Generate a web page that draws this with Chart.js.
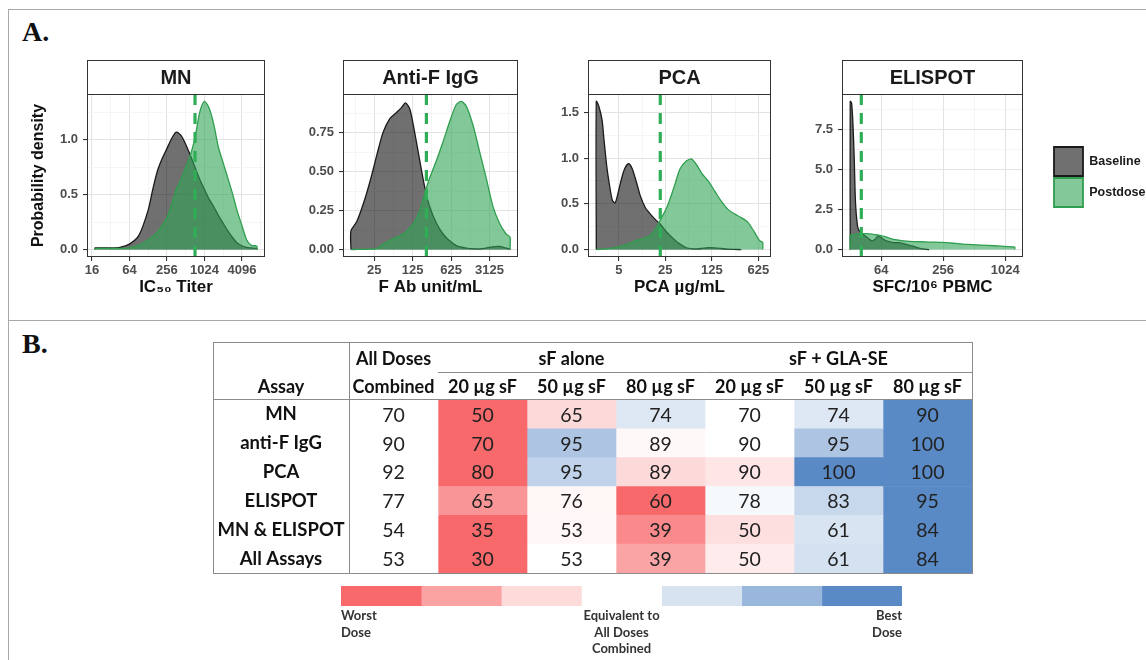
<!DOCTYPE html>
<html>
<head>
<meta charset="utf-8">
<title>Dose response by assay</title>
<script src="https://cdn.jsdelivr.net/npm/chart.js@4.4.1/dist/chart.umd.min.js"></script>
<style>
  html, body { margin: 0; padding: 0; background: #fff; }
  body { width: 1146px; height: 660px; position: relative; overflow: hidden; }
  .frame { position: absolute; left: 8px; top: 9px; width: 1160px; height: 720px; border: 1.5px solid #a9a9a9; box-sizing: border-box; }
  .divider { position: absolute; left: 8px; top: 320px; width: 1160px; height: 0; border-top: 1.5px solid #a9a9a9; }
  .tag { position: absolute; left: 22px; font: bold 28px "Liberation Serif", "Times New Roman", serif; line-height: 28px; color: #111; }
  .box { position: absolute; }
  canvas { display: block; }
</style>
</head>
<body>
<div class="frame"></div>
<div class="divider"></div>
<div class="tag" style="top:18px">A.</div>
<div class="tag" style="top:330px">B.</div>

<div class="box" style="left:20px;top:55px"><canvas id="mn" width="250" height="250"></canvas></div>
<div class="box" style="left:300px;top:55px"><canvas id="igg" width="225" height="250"></canvas></div>
<div class="box" style="left:546px;top:55px"><canvas id="pca" width="232" height="250"></canvas></div>
<div class="box" style="left:800px;top:55px"><canvas id="elispot" width="230" height="250"></canvas></div>
<div class="box" style="left:1052px;top:145px"><canvas id="key" width="200" height="72"></canvas></div>

<div class="box" style="left:213px;top:342px"><canvas id="table" width="760" height="232"></canvas></div>
<div class="box" style="left:330px;top:580px"><canvas id="scale" width="590" height="80"></canvas></div>

<script>
// ---- panel A: density curves (x values on the original assay scale) ----
const mnTiter = [18, 32, 45, 64, 91, 128, 152, 181, 215, 256, 304, 362, 431, 512, 609,
  724, 861, 1024, 1218, 1448, 1722, 2048, 2435, 2896, 3444, 4096, 4871, 5793, 7132];
const mnBaseline = [0.015, 0.015, 0.02, 0.05, 0.13, 0.36, 0.55, 0.72, 0.83, 0.92, 1.01, 1.07, 1.04, 0.96, 0.86,
  0.75, 0.64, 0.55, 0.46, 0.39, 0.31, 0.24, 0.17, 0.11, 0.06, 0.035, 0.02, 0.015, 0.01];
const mnPostdose = [0.01, 0.01, 0.01, 0.015, 0.04, 0.09, 0.12, 0.16, 0.22, 0.29, 0.41, 0.55, 0.64, 0.75, 0.86,
  1.02, 1.25, 1.35, 1.29, 1.14, 0.93, 0.79, 0.65, 0.51, 0.35, 0.22, 0.09, 0.04, 0.03];
const mnCutoff = 724;
const mnXTicks = [16, 64, 256, 1024, 4096];
const mnYTicks = [0, 0.5, 1.0];

const iggUnits = [9.4, 12, 16, 21, 28, 36, 48, 64, 78, 92, 111, 136, 168, 207, 255,
  337, 445, 588, 777, 956, 1178, 1557, 2056, 2717, 3588, 4734, 6253, 7393];
const iggBaseline = [0.12, 0.18, 0.30, 0.44, 0.61, 0.75, 0.84, 0.88, 0.91, 0.94, 0.90, 0.75, 0.57, 0.40, 0.275,
  0.17, 0.10, 0.056, 0.025, 0.015, 0.01, 0.006, 0.005, 0.01, 0.018, 0.02, 0.01, 0.004];
const iggPostdose = [0, 0.001, 0.002, 0.003, 0.008, 0.035, 0.06, 0.08, 0.095, 0.11, 0.14, 0.18, 0.25, 0.36, 0.46,
  0.57, 0.69, 0.82, 0.93, 0.95, 0.92, 0.80, 0.63, 0.46, 0.28, 0.17, 0.10, 0.08];
const iggCutoff = 222;
const iggXTicks = [25, 125, 625, 3125];
const iggYTicks = [0, 0.25, 0.5, 0.75];

const pcaConc = [2.3, 2.5, 2.8, 3.0, 3.3, 3.6, 4.0, 4.4, 4.7, 5.3, 6.1, 7.0, 7.9, 9.1, 10.5, 12.5, 14.8, 17.6,
  20.9, 26.3, 33, 41.5, 52, 62, 73.5, 87, 110, 138, 173, 218, 274, 345, 433, 545, 647, 725];
const pcaBaseline = [1.62, 1.57, 1.42, 1.20, 0.91, 0.72, 0.54, 0.51, 0.57, 0.73, 0.88, 0.94, 0.89, 0.75, 0.59, 0.46, 0.39, 0.33,
  0.28, 0.19, 0.12, 0.06, 0.02, 0.01, 0.008, 0.012, 0.02, 0.018, 0.012, 0.005, 0.002, 0, null, null, null, null];
const pcaPostdose = [0, 0.002, 0.004, 0.006, 0.01, 0.014, 0.018, 0.022, 0.027, 0.035, 0.05, 0.065, 0.08, 0.10, 0.11, 0.13, 0.15, 0.22,
  0.32, 0.46, 0.66, 0.88, 0.97, 0.99, 0.93, 0.84, 0.75, 0.64, 0.53, 0.44, 0.39, 0.35, 0.30, 0.19, 0.10, 0.08];
const pcaCutoff = 21;
const pcaXTicks = [5, 25, 125, 625];
const pcaYTicks = [0, 0.5, 1.0, 1.5];

const elispotSfc = [32, 33, 34, 35, 36, 37.6, 39, 42, 47, 52, 56, 60, 65, 72, 84, 97, 112, 130,
  156, 187, 250, 335, 448, 600, 803, 1075, 1270];
const elispotBaseline = [9.24, 9.13, 7.84, 5.69, 2.9, 1.5, 1.18, 0.97, 0.75, 0.54, 0.64, 0.86, 0.71, 0.54, 0.43, 0.43, 0.32, 0.21,
  0.06, 0, null, null, null, null, null, null, null];
const elispotPostdose = [0.9, 0.92, 0.94, 0.95, 0.96, 1.0, 1.0, 1.0, 0.99, 0.96, 0.93, 0.9, 0.85, 0.78, 0.64, 0.58, 0.53, 0.50,
  0.49, 0.47, 0.45, 0.39, 0.32, 0.28, 0.24, 0.19, 0.15];
const elispotCutoff = 41;
const elispotXTicks = [64, 256, 1024];
const elispotYTicks = [0, 2.5, 5.0, 7.5];

// ---- panel B: percent responders table ----
const assays = ['MN', 'anti-F IgG', 'PCA', 'ELISPOT', 'MN & ELISPOT', 'All Assays'];
const doseHeads = ['Combined', '20 µg sF', '50 µg sF', '80 µg sF', '20 µg sF', '50 µg sF', '80 µg sF'];
const groupHeads = ['All Doses', 'sF alone', 'sF + GLA-SE'];
const groupCols = [[0], [1, 2, 3], [4, 5, 6]];
const allDoses = [70, 90, 92, 77, 54, 53];
const sf20 = [50, 70, 80, 65, 35, 30];
const sf50 = [65, 95, 95, 76, 53, 53];
const sf80 = [74, 89, 89, 60, 39, 39];
const gla20 = [70, 90, 90, 78, 50, 50];
const gla50 = [74, 95, 100, 83, 61, 61];
const gla80 = [90, 100, 100, 95, 84, 84];
const tableCols = [allDoses, sf20, sf50, sf80, gla20, gla50, gla80];

const legendSteps = [-1, -0.62, -0.24, 0, 0.24, 0.62, 1];
const legendLabels = [['Worst', 'Dose'], ['Equivalent to', 'All Doses', 'Combined'], ['Best', 'Dose']];

// ---- styles ----
const BASE_LINE = '#1a1a1a';
const BASE_FILL = 'rgba(0,0,0,0.56)';
const POST_LINE = '#2f9e4f';
const POST_FILL = 'rgba(49,163,84,0.6)';
const SANS = '"Liberation Sans", Arial, sans-serif';
const RED = [248, 105, 107], MID = [255, 255, 255], BLUE = [90, 138, 198];

Chart.defaults.animation = false;
Chart.defaults.responsive = false;
Chart.defaults.events = [];
Chart.defaults.font.family = SANS;
Chart.defaults.plugins.legend.display = false;
Chart.defaults.plugins.tooltip.enabled = false;

function mix(a, b, t) {
  return 'rgb(' + a.map((v, i) => Math.round(v + (b[i] - v) * t)).join(',') + ')';
}

function stepColor(t) {
  return t < 0 ? mix(MID, RED, -t) : mix(MID, BLUE, t);
}

// same rule as the spreadsheet: worst dose red, all-doses value white, best dose blue
function cellColor(v, r) {
  const row = tableCols.map(c => c[r]);
  const lo = Math.min(...row), hi = Math.max(...row), mid = allDoses[r];
  if (v < mid) return mix(MID, RED, (mid - v) / (mid - lo));
  if (v > mid) return mix(MID, BLUE, (v - mid) / (hi - mid));
  return mix(MID, MID, 0);
}

function logPad(lo, hi) {
  const f = Math.pow(hi / lo, 0.05);
  return [lo / f, hi * f];
}

function area(label, xs, ys, line, fill) {
  const pts = xs.map((x, i) => ({ x, y: ys[i] })).filter(p => p.y !== null);
  const first = pts[0], last = pts[pts.length - 1];
  return {
    label,
    data: [{ x: first.x, y: 0 }, ...pts, { x: last.x, y: 0 }],
    borderColor: line,
    backgroundColor: fill,
    borderWidth: 1.3,
    fill: 'origin',
    pointRadius: 0,
    tension: 0.25
  };
}

// facet strip and panel border
const stripPlugin = {
  id: 'strip',
  afterDraw(chart, args, opts) {
    const { ctx, chartArea: a } = chart;
    ctx.save();
    ctx.fillStyle = '#fff';
    ctx.fillRect(a.left, a.top - 34, a.right - a.left, 34);
    ctx.strokeStyle = '#333';
    ctx.lineWidth = 1;
    ctx.strokeRect(a.left + 0.5, a.top - 33.5, a.right - a.left - 1, 34);
    ctx.strokeRect(a.left + 0.5, a.top + 0.5, a.right - a.left - 1, a.bottom - a.top - 1);
    ctx.fillStyle = '#1a1a1a';
    ctx.font = 'bold 20px ' + SANS;
    ctx.textAlign = 'center';
    ctx.textBaseline = 'middle';
    ctx.fillText(opts.text, (a.left + a.right) / 2, a.top - 16);
    ctx.restore();
  }
};

const cutoffPlugin = {
  id: 'cutoff',
  afterDatasetsDraw(chart, args, opts) {
    const { ctx, chartArea: a, scales: { x } } = chart;
    const px = x.getPixelForValue(opts.value);
    ctx.save();
    ctx.strokeStyle = '#2fae57';
    ctx.lineWidth = 3.2;
    ctx.setLineDash([11, 8]);
    ctx.beginPath();
    ctx.moveTo(px, a.top);
    ctx.lineTo(px, a.bottom);
    ctx.stroke();
    ctx.restore();
  }
};

function densityPanel(id, p) {
  const peak = Math.max(...p.baseline.concat(p.postdose).filter(v => v !== null));
  const yMin = -0.05 * peak, yMax = 1.05 * peak;
  const [xMin, xMax] = logPad(p.x[0], p.x[p.x.length - 1]);

  const half = Math.sqrt(p.xTicks[1] / p.xTicks[0]);
  const xGrid = [p.xTicks[0] / half];
  p.xTicks.forEach(v => xGrid.push(v, v * half));
  const xs = xGrid.filter(v => v >= xMin && v <= xMax);

  const step = p.yTicks[1] - p.yTicks[0];
  const yGrid = [];
  p.yTicks.forEach(v => yGrid.push(v, v + step / 2));
  const ys = yGrid.filter(v => v >= yMin && v <= yMax);

  const isX = c => c.tick && p.xTicks.includes(c.tick.value);
  const isY = c => c.tick && p.yTicks.includes(c.tick.value);
  const tickFont = { size: 13, weight: 'bold' };

  return new Chart(document.getElementById(id), {
    type: 'line',
    data: {
      datasets: [
        area('Postdose', p.x, p.postdose, POST_LINE, POST_FILL),
        area('Baseline', p.x, p.baseline, BASE_LINE, BASE_FILL)
      ]
    },
    options: {
      devicePixelRatio: 1,
      layout: { padding: { top: 39, right: p.padRight, left: 0, bottom: 0 } },
      plugins: { strip: { text: p.title }, cutoff: { value: p.cutoff } },
      scales: {
        x: {
          type: 'logarithmic',
          min: xMin,
          max: xMax,
          bounds: 'data',
          afterBuildTicks: s => { s.ticks = xs.map(v => ({ value: v })); },
          afterFit: s => { s.height = 48; },
          grid: {
            color: c => isX(c) ? '#e3e3e3' : '#f1f1f1',
            lineWidth: c => isX(c) ? 1.1 : 0.7,
            tickColor: c => isX(c) ? '#333' : 'rgba(0,0,0,0)',
            tickLength: 4
          },
          border: { display: false },
          ticks: {
            autoSkip: false, maxRotation: 0, padding: 1.5, color: '#4d4d4d', font: tickFont,
            callback: v => p.xTicks.includes(v) ? String(v) : ''
          },
          title: {
            display: true, text: p.xTitle, color: '#111',
            font: { size: 17, weight: 'bold' }, padding: { top: 0, bottom: 7 }
          }
        },
        y: {
          min: yMin,
          max: yMax,
          bounds: 'data',
          afterBuildTicks: s => { s.ticks = ys.map(v => ({ value: v })); },
          afterFit: s => { s.width = p.axisWidth; },
          grid: {
            color: c => isY(c) ? '#e3e3e3' : '#f1f1f1',
            lineWidth: c => isY(c) ? 1.1 : 0.7,
            tickColor: c => isY(c) ? '#333' : 'rgba(0,0,0,0)',
            tickLength: 4
          },
          border: { display: false },
          ticks: {
            autoSkip: false, padding: 5, color: '#4d4d4d', font: tickFont,
            callback: v => p.yTicks.includes(v) ? v.toFixed(p.digits) : ''
          },
          title: {
            display: p.yTitle !== '', text: p.yTitle, color: '#111',
            font: { size: 16, weight: 'bold' }, padding: { top: 9, bottom: 0 }
          }
        }
      }
    },
    plugins: [stripPlugin, cutoffPlugin]
  });
}

densityPanel('mn', {
  title: 'MN', x: mnTiter, baseline: mnBaseline, postdose: mnPostdose, cutoff: mnCutoff,
  xTicks: mnXTicks, yTicks: mnYTicks, digits: 1, xTitle: 'IC₅₀ Titer', yTitle: 'Probability density',
  axisWidth: 67, padRight: 5
});
densityPanel('igg', {
  title: 'Anti-F IgG', x: iggUnits, baseline: iggBaseline, postdose: iggPostdose, cutoff: iggCutoff,
  xTicks: iggXTicks, yTicks: iggYTicks, digits: 2, xTitle: 'F Ab unit/mL', yTitle: '',
  axisWidth: 43, padRight: 7
});
densityPanel('pca', {
  title: 'PCA', x: pcaConc, baseline: pcaBaseline, postdose: pcaPostdose, cutoff: pcaCutoff,
  xTicks: pcaXTicks, yTicks: pcaYTicks, digits: 1, xTitle: 'PCA µg/mL', yTitle: '',
  axisWidth: 42, padRight: 7
});
densityPanel('elispot', {
  title: 'ELISPOT', x: elispotSfc, baseline: elispotBaseline, postdose: elispotPostdose, cutoff: elispotCutoff,
  xTicks: elispotXTicks, yTicks: elispotYTicks, digits: 1, xTitle: 'SFC/10⁶ PBMC', yTitle: '',
  axisWidth: 42, padRight: 7
});

// legend for the density panels
new Chart(document.getElementById('key'), {
  type: 'line',
  data: {
    datasets: [
      { label: 'Baseline', data: [], borderColor: BASE_LINE, backgroundColor: BASE_FILL, borderWidth: 1.8 },
      { label: 'Postdose', data: [], borderColor: POST_LINE, backgroundColor: POST_FILL, borderWidth: 1.8 }
    ]
  },
  options: {
    devicePixelRatio: 1,
    scales: { x: { display: false }, y: { display: false } },
    plugins: {
      legend: {
        display: true, position: 'left', align: 'start',
        labels: {
          boxWidth: 29, boxHeight: 29, padding: 2, color: '#1a1a1a',
          font: { size: 12.5, weight: 'bold' }
        }
      }
    }
  }
});

// ---- table ----
const ROW_FONT = { family: 'Lato', size: 18.5, weight: 'bold' };
const measure = document.createElement('canvas').getContext('2d');
measure.font = 'bold 18.5px Lato';
const widestAssay = Math.max(...assays.map(a => measure.measureText(a).width));
const ASSAY_COL = 136;

const cellText = {
  id: 'cellText',
  afterDatasetsDraw(chart) {
    const { ctx } = chart;
    ctx.save();
    ctx.font = '19.5px Lato';
    ctx.fillStyle = '#222';
    ctx.textAlign = 'center';
    ctx.textBaseline = 'middle';
    chart.data.datasets.forEach((ds, j) => {
      chart.getDatasetMeta(j).data.forEach((bar, r) => {
        ctx.fillText(String(tableCols[j][r]), (bar.x + bar.base) / 2, bar.y + 1);
      });
    });
    ctx.restore();
  }
};

const tableLines = {
  id: 'tableLines',
  afterDraw(chart) {
    const { ctx, chartArea: a, scales: { x, x2, y }, width, height } = chart;
    ctx.save();
    ctx.strokeStyle = '#8a8a8a';
    ctx.lineWidth = 1;
    ctx.strokeRect(0.5, 0.5, width - 1, height - 1);
    ctx.beginPath();
    ctx.moveTo(Math.round(a.left) + 0.5, 0);
    ctx.lineTo(Math.round(a.left) + 0.5, height);
    ctx.moveTo(0, Math.round(a.top) - 0.5);
    ctx.lineTo(width, Math.round(a.top) - 0.5);
    ctx.moveTo(x.getPixelForValue(1), Math.round(x2.bottom) + 0.5);
    ctx.lineTo(width, Math.round(x2.bottom) + 0.5);
    ctx.stroke();
    ctx.fillStyle = '#111';
    ctx.font = 'bold 18px Lato';
    ctx.textAlign = 'center';
    ctx.textBaseline = 'middle';
    ctx.fillText('Assay', (y.left + y.right) / 2, x.bottom - 12.4);
    ctx.restore();
  }
};

const headFont = { family: 'Lato', size: 18, weight: 'bold', lineHeight: 1.38 };

new Chart(document.getElementById('table'), {
  type: 'bar',
  data: {
    labels: assays,
    datasets: tableCols.map((vals, j) => ({
      label: doseHeads[j],
      data: vals.map(() => [j, j + 1]),
      backgroundColor: vals.map((v, r) => cellColor(v, r)),
      borderWidth: 0,
      barPercentage: 1,
      categoryPercentage: 1,
      grouped: false
    }))
  },
  options: {
    devicePixelRatio: 1,
    indexAxis: 'y',
    layout: { padding: { top: 0, right: 1, bottom: 1, left: 0 } },
    scales: {
      y: {
        type: 'category',
        grid: { display: false, drawTicks: false },
        border: { display: false },
        afterFit: s => { s.width = ASSAY_COL; s.paddingTop = 0; s.paddingBottom = 0; },
        ticks: {
          crossAlign: 'center', padding: (ASSAY_COL - widestAssay) / 2,
          color: '#111', font: ROW_FONT
        }
      },
      x: {
        type: 'linear', position: 'top', min: 0, max: 7, bounds: 'data',
        grid: { display: false, drawTicks: false },
        border: { display: false },
        afterBuildTicks: s => { s.ticks = doseHeads.map((h, j) => ({ value: j + 0.5 })); },
        afterFit: s => { s.height = 28; },
        ticks: {
          autoSkip: false, maxRotation: 0, padding: 0, color: '#111', font: headFont,
          callback: (v, i) => doseHeads[i]
        }
      },
      x2: {
        type: 'linear', position: 'top', min: 0, max: 7, bounds: 'data', weight: 1,
        grid: { display: false, drawTicks: false },
        border: { display: false },
        afterBuildTicks: s => {
          s.ticks = groupCols.map(c => ({ value: (c[0] + c[c.length - 1] + 1) / 2 }));
        },
        afterFit: s => { s.height = 30; },
        ticks: {
          autoSkip: false, maxRotation: 0, padding: 0, color: '#111', font: headFont,
          callback: (v, i) => groupHeads[i]
        }
      }
    }
  },
  plugins: [cellText, tableLines]
});

// ---- colour key under the table ----
new Chart(document.getElementById('scale'), {
  type: 'bar',
  data: {
    labels: [''],
    datasets: legendSteps.map(t => ({
      data: [1],
      backgroundColor: stepColor(t),
      borderWidth: 0,
      barPercentage: 1,
      categoryPercentage: 1
    }))
  },
  options: {
    devicePixelRatio: 1,
    indexAxis: 'y',
    layout: { padding: { left: 11, right: 18, top: 6, bottom: 0 } },
    scales: {
      y: { display: false, stacked: true },
      x: {
        stacked: true, min: 0, max: legendSteps.length, bounds: 'data',
        grid: { display: false, drawTicks: false },
        border: { display: false },
        afterBuildTicks: s => {
          s.ticks = [0, legendSteps.length / 2, legendSteps.length].map(v => ({ value: v }));
        },
        afterFit: s => { s.height = 54; },
        ticks: {
          autoSkip: false, maxRotation: 0, align: 'inner', padding: 2, color: '#333',
          font: { family: 'Lato', size: 13, weight: 'bold', lineHeight: 1.27 },
          callback: (v, i) => legendLabels[i]
        }
      }
    }
  }
});
</script>
</body>
</html>
